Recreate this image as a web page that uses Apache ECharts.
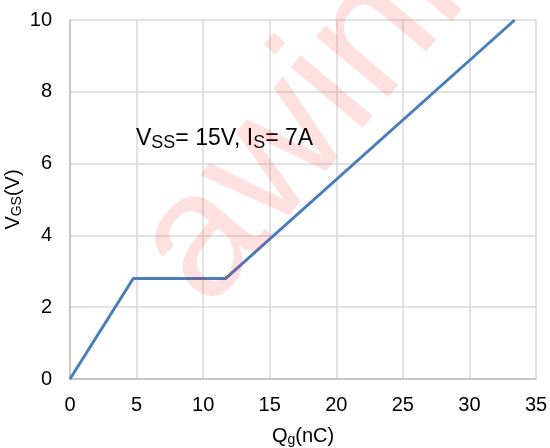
<!DOCTYPE html>
<html><head><meta charset="utf-8">
<script src="https://cdn.jsdelivr.net/npm/echarts@6/dist/echarts.min.js"></script>
<style>html,body{margin:0;padding:0;background:#fff}#c{width:550px;height:448px}</style>
</head><body><div id="c"></div>
<script>
var qg = [0, 4.75, 11.7, 33.4];
var vgs = [0, 2.8, 2.8, 10];
var xTicks = [0, 5, 10, 15, 20, 25, 30, 35];
var yTicks = [0, 2, 4, 6, 8, 10];

var chart = echarts.init(document.getElementById('c'));
var F = 'Liberation Sans, Arial, sans-serif';
chart.setOption({
  animation: false,
  grid: {left: 70, right: 14, top: 20, bottom: 69, containLabel: false, outerBoundsMode: 'none'},
  xAxis: {
    type: 'value', min: xTicks[0], max: xTicks[xTicks.length-1], interval: 5,
    name: '{m|Q}{s|g}{m|(nC)}', nameLocation: 'middle', nameGap: 46,
    nameTextStyle: {rich: {m: {fontSize: 20, fontFamily: F, color: '#000'}, s: {fontSize: 14, fontFamily: F, color: '#000', verticalAlign: 'bottom', padding: [8,0,0,0]}}},
    axisLine: {show: true, lineStyle: {color: '#bfbfbf', width: 1.5}},
    axisTick: {show: false},
    axisLabel: {fontSize: 20, fontFamily: F, color: '#000', margin: 16},
    splitLine: {show: true, lineStyle: {color: '#d9d9d9', width: 1.5}}
  },
  yAxis: {
    type: 'value', min: yTicks[0], max: yTicks[yTicks.length-1], interval: 2,
    name: '{m|V}{s|GS}{m|(V)}', nameLocation: 'middle', nameGap: 46, nameRotate: 90, nameMoveOverlap: false,
    nameTextStyle: {rich: {m: {fontSize: 20, fontFamily: F, color: '#000'}, s: {fontSize: 14, fontFamily: F, color: '#000', verticalAlign: 'bottom', padding: [8,0,0,0]}}},
    axisLine: {show: true, lineStyle: {color: '#bfbfbf', width: 1.5}},
    axisTick: {show: false},
    axisLabel: {fontSize: 20, fontFamily: F, color: '#000', margin: 18},
    splitLine: {show: true, lineStyle: {color: '#d9d9d9', width: 1.5}}
  },
  series: [{
    type: 'line', data: qg.map(function(x, i){return [x, vgs[i]];}),
    showSymbol: false, symbol: 'none',
    lineStyle: {color: '#4a7ebb', width: 3}
  }],
  graphic: [
    {type: 'text', left: 136, top: 127, z: 50,
     style: {rich: {m: {fontSize: 23, fontFamily: F, fill: '#000'}, s: {fontSize: 18, fontFamily: F, fill: '#000', verticalAlign: 'bottom', padding: [9,0,0,0]}},
       text: '{m|V}{s|SS}{m|= 15V, I}{s|S}{m|= 7A}'}},
    {type: 'text', x: 330, y: 90, rotation: 50 * Math.PI / 180, z: 100, silent: true,
     style: {text: 'awinic', fontSize: 178, fontFamily: F, fill: 'rgba(255,0,0,0.12)', textAlign: 'center', textVerticalAlign: 'middle', align: 'center', verticalAlign: 'middle'}}
  ]
});
</script></body></html>
